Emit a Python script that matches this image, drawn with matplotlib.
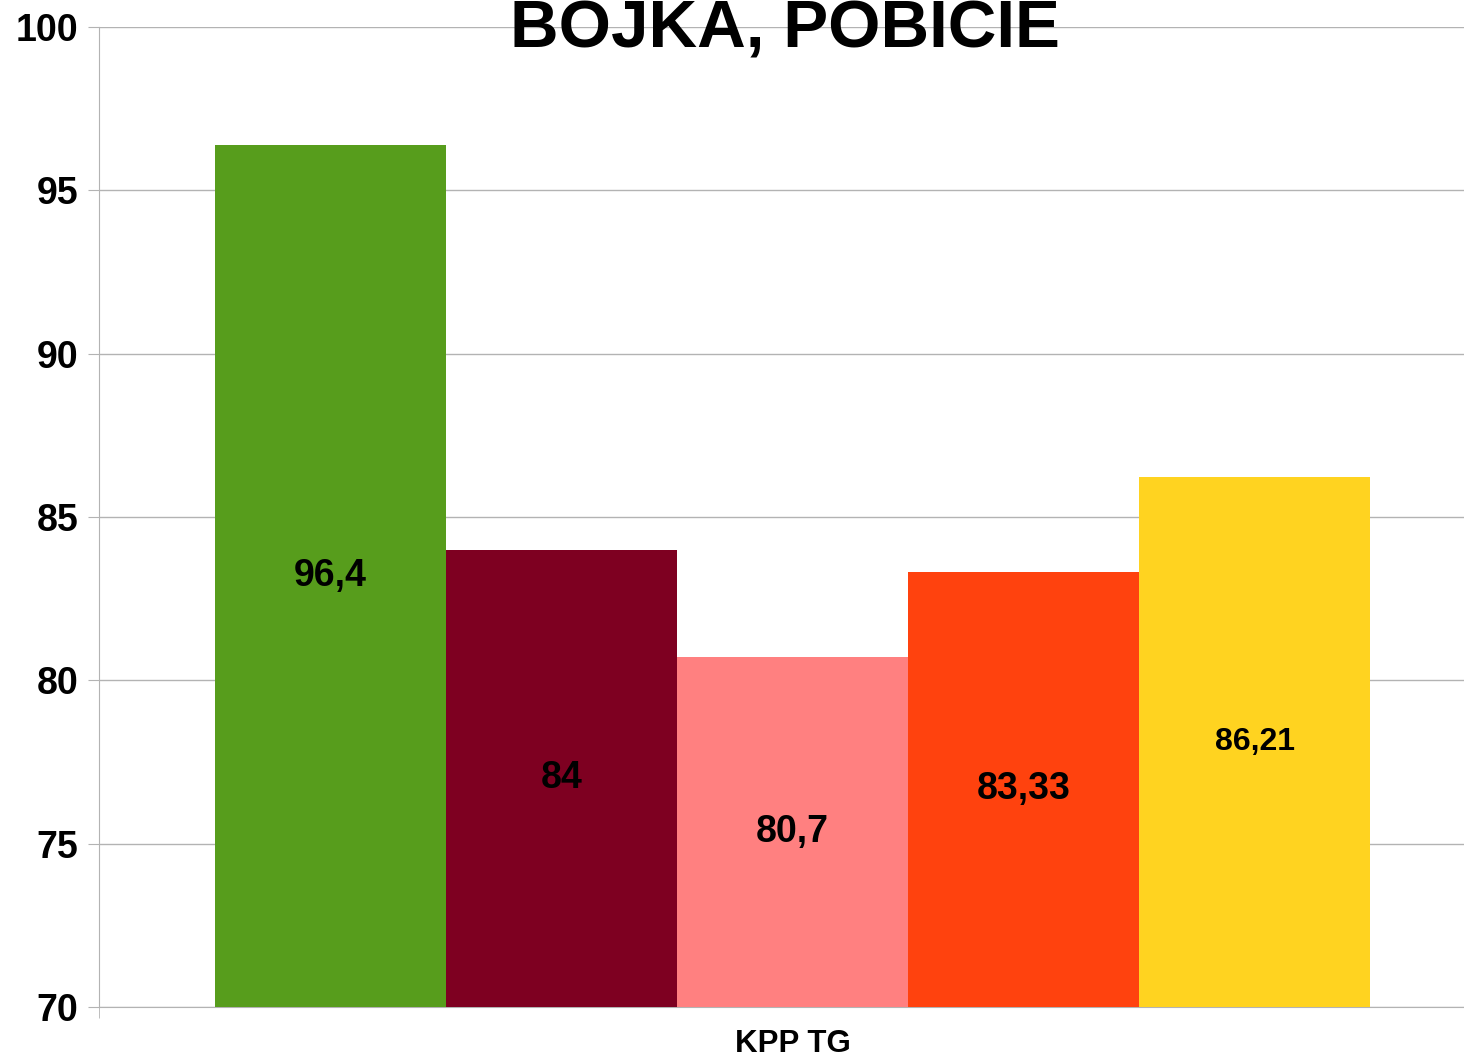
import matplotlib
matplotlib.use("Agg")
import matplotlib.pyplot as plt

plt.rcParams['font.family'] = ['Liberation Sans', 'DejaVu Sans']

title = "BOJKA, POBICIE"
category = "KPP TG"
values = [96.4, 84.0, 80.7, 83.33, 86.21]
value_labels = ["96,4", "84", "80,7", "83,33", "86,21"]
label_sizes = [27, 27, 27, 27, 23]
colors = ["#579d1c", "#7e0021", "#ff8080", "#ff420e", "#ffd320"]
yticks = [70, 75, 80, 85, 90, 95, 100]

W, H = 1464, 1057
fig = plt.figure(figsize=(W / 100, H / 100), dpi=100)
ax = fig.add_axes([99 / W, 1 - 1007 / H, (W - 99) / W, (1007 - 27) / H])

xs = list(range(len(values)))
base = yticks[0]
ax.bar(xs, [v - base for v in values], bottom=base, width=1.0, color=colors, zorder=3)
for x, v, lab, fs in zip(xs, values, value_labels, label_sizes):
    ax.text(x, (base + v) / 2, lab, ha='center', va='center', fontsize=fs,
            fontweight='bold', color='black', zorder=4)

ax.set_ylim(70, 100)
ax.set_xlim(-1.0, 4.905)
ax.set_yticks(yticks)
ax.set_yticklabels([str(t) for t in yticks], fontsize=27, fontweight='bold')
ax.yaxis.grid(True, color='#b3b3b3', linewidth=1.0, zorder=0)
ax.tick_params(axis='y', direction='out', length=8, color='#b3b3b3', pad=7)

ax.set_xticks([2])
ax.set_xticklabels([category], fontsize=22.5, fontweight='bold')
ax.set_xticks([-1.0], minor=True)
ax.tick_params(axis='x', which='major', length=0, pad=16)
ax.tick_params(axis='x', which='minor', direction='out', length=8, color='#b3b3b3')

for s in ['top', 'right']:
    ax.spines[s].set_visible(False)
ax.spines['left'].set_color('#b3b3b3')
ax.spines['bottom'].set_color('#b3b3b3')

fig.text(785 / W, 1 - 47 / H, title, ha='center', va='baseline',
         fontsize=48.5, fontweight='bold', color='black')

fig.savefig("out.png", dpi=100, facecolor='white')
